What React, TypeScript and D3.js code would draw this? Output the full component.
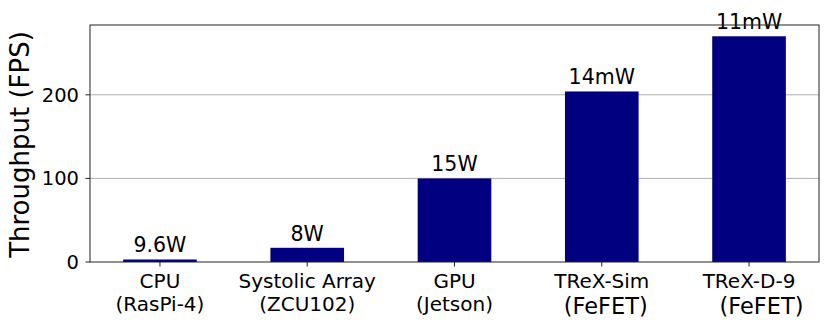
import React from 'react';
import * as d3 from 'd3';

const categories = ['CPU', 'Systolic Array', 'GPU', 'TReX-Sim', 'TReX-D-9'];
const subLabels = ['(RasPi-4)', '(ZCU102)', '(Jetson)', '(FeFET)', '(FeFET)'];
const throughput = [3, 17, 100, 204, 270];
const powerLabels = ['9.6W', '8W', '15W', '14mW', '11mW'];
const yTicks = [0, 100, 200];

export default function App() {
  const width = 830;
  const height = 331;
  const margin = { top: 25, right: 11, bottom: 69, left: 90 };
  const font = '"DejaVu Sans", sans-serif';

  const x = d3
    .scaleLinear()
    .domain([-0.475, categories.length - 1 + 0.475])
    .range([margin.left, width - margin.right]);
  const y = d3
    .scaleLinear()
    .domain([0, d3.max(throughput)! * 1.05])
    .range([height - margin.bottom, margin.top]);

  const barW = x(0.5) - x(0);
  const x0 = margin.left;
  const x1 = width - margin.right;
  const yBase = y(0);

  return (
    <svg
      width={width}
      height={height}
      style={{ position: 'absolute', left: 0, top: 0, background: '#fff' }}
      fontFamily={font}
    >
      {/* grid */}
      {yTicks.slice(1).map((t) => (
        <line key={t} x1={x0} x2={x1} y1={y(t)} y2={y(t)} stroke="#b0b0b0" strokeWidth={1} />
      ))}

      {/* bars */}
      {throughput.map((v, i) => (
        <rect
          key={categories[i]}
          x={x(i) - barW / 2}
          y={y(v)}
          width={barW}
          height={yBase - y(v)}
          fill="#000080"
        />
      ))}

      {/* power labels */}
      {throughput.map((v, i) => (
        <text key={'p' + i} x={x(i)} y={y(v) - 7} textAnchor="middle" fontSize={20.5} fill="#000">
          {powerLabels[i]}
        </text>
      ))}

      {/* frame */}
      <rect x={x0} y={margin.top} width={x1 - x0} height={yBase - margin.top} fill="none" stroke="#222" strokeWidth={1} />

      {/* y axis */}
      {yTicks.map((t) => (
        <g key={'y' + t}>
          <line x1={x0 - 4.5} x2={x0} y1={y(t)} y2={y(t)} stroke="#222" />
          <text x={x0 - 11} y={y(t)} dy="0.36em" textAnchor="end" fontSize={19.5} fill="#000">
            {t}
          </text>
        </g>
      ))}
      <text
        transform={`translate(29, ${(margin.top + yBase) / 2 + 1}) rotate(-90)`}
        textAnchor="middle"
        fontSize={26}
        fill="#000"
      >
        Throughput (FPS)
      </text>

      {/* x axis */}
      {categories.map((c, i) => {
        const fefet = subLabels[i] === '(FeFET)';
        return (
          <g key={'x' + c}>
            <line x1={x(i)} x2={x(i)} y1={yBase} y2={yBase + 4.5} stroke="#222" />
            <text x={x(i)} y={yBase + 25.5} textAnchor="middle" fontSize={20} fill="#000">
              {c}
            </text>
            <text
              x={x(i) + (fefet ? (i === 4 ? 12.5 : 4) : 0)}
              y={yBase + (fefet ? 51.5 : 48.5)}
              textAnchor="middle"
              fontSize={fefet ? 22.5 : 20}
              fill="#000"
            >
              {subLabels[i]}
            </text>
          </g>
        );
      })}
    </svg>
  );
}
